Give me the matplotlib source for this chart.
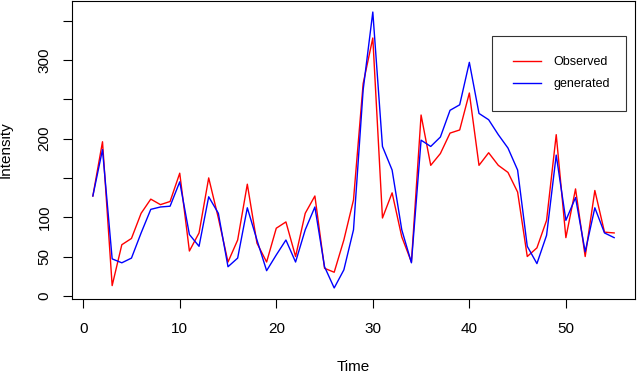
import numpy as np
import matplotlib.pyplot as plt

plt.rcParams['font.family'] = ['Liberation Sans', 'DejaVu Sans']

# time index and the two series
time = np.arange(1, 56)

observed = [127, 196, 13, 65, 73, 105, 123, 116, 120, 156,
            57, 80, 150, 99, 43, 71, 142, 67, 43, 86,
            94, 50, 105, 127, 35, 30, 71, 122, 270, 328,
            99, 131, 75, 43, 230, 166, 181, 207, 211, 258,
            166, 182, 166, 157, 132, 50, 61, 96, 205, 74,
            136, 50, 134, 81, 80]

generated = [127, 186, 47, 42, 48, 80, 110, 113, 114, 145,
             78, 63, 126, 105, 37, 48, 112, 71, 32, 52,
             71, 43, 84, 113, 37, 10, 33, 84, 262, 361,
             190, 160, 84, 42, 198, 190, 202, 236, 243, 297,
             232, 224, 205, 188, 160, 63, 41, 77, 179, 96,
             125, 56, 112, 80, 74]

ytick_vals = [0, 50, 100, 150, 200, 250, 300, 350]
ytick_labels = ['0', '50', '100', '', '200', '', '300', '']
xtick_vals = [0, 10, 20, 30, 40, 50]

fig = plt.figure(figsize=(6.4, 3.73), dpi=100)
ax = fig.add_axes([72/640, 1 - 299/373, 563/640, 298/373])

ax.plot(time, observed, color='#ff0000', lw=1.0, label='Observed')
ax.plot(time, generated, color='#0000ff', lw=1.0, label='generated')

# R style 4% padding on both axes
xr = time.max() - time.min()
ax.set_xlim(time.min() - 0.04*xr, time.max() + 0.04*xr)
lo = min(min(observed), min(generated))
hi = max(max(observed), max(generated))
ax.set_ylim(lo - 0.04*(hi - lo), hi + 0.04*(hi - lo))

ax.set_xticks(xtick_vals)
ax.set_yticks(ytick_vals)
ax.set_yticklabels(ytick_labels, rotation=90, va='center')
ax.tick_params(direction='out', length=6.8, width=0.8, labelsize=11, colors='black')
ax.tick_params(axis='x', pad=9.5)
ax.tick_params(axis='y', pad=8)
for s in ax.spines.values():
    s.set_linewidth(0.8)

ax.set_xlabel('Time', fontsize=11)
ax.set_ylabel('Intensity', fontsize=11)
ax.xaxis.set_label_coords(0.5, -0.205)
ax.yaxis.set_label_coords(-0.105, 0.5)

# legend box spans the same region as in the R plot
leg = ax.legend(loc='upper left', bbox_to_anchor=(0.746, 0.883, 0.238, 0.0), mode='expand',
                borderaxespad=0, fontsize=9, frameon=True, fancybox=False, edgecolor='black',
                handlelength=2.3, handletextpad=1.0, labelspacing=0.8, borderpad=1.65)
leg.get_frame().set_linewidth(0.8)

fig.savefig('out.png', dpi=100)
